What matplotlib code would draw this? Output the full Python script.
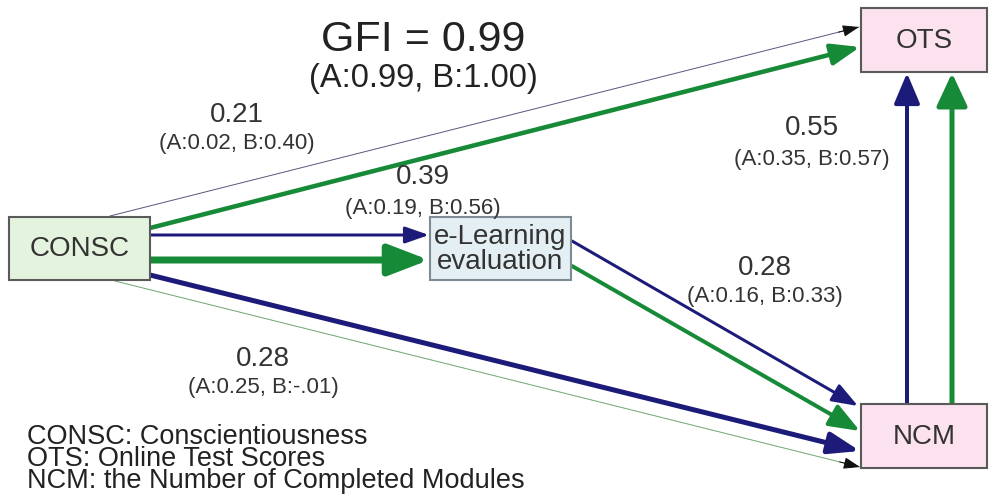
import matplotlib
matplotlib.use('Agg')

import matplotlib.pyplot as plt
from matplotlib.patches import FancyArrowPatch, Rectangle

plt.rcParams['font.family'] = ['Liberation Sans', 'DejaVu Sans']

# --- data ---
node_names = ['CONSC', 'OTS', 'NCM', 'e-Learning\nevaluation']
path_total = ['0.21', '0.39', '0.55', '0.28', '0.28']
path_a = ['0.02', '0.19', '0.35', '0.16', '0.25']
path_b = ['0.40', '0.56', '0.57', '0.33', '-.01']
gfi_total, gfi_a, gfi_b = '0.99', '0.99', '1.00'
legend_lines = ['CONSC: Conscientiousness',
                'OTS: Online Test Scores',
                'NCM: the Number of Completed Modules']

NAVY = '#1d1b7a'
GREEN = '#178a38'
TEXT = '#333333'
PX = 0.72  # pixels -> points at dpi 100

fig = plt.figure(figsize=(9.9, 5.02), dpi=100)
ax = fig.add_axes([0, 0, 1, 1])
ax.set_xlim(0, 990)
ax.set_ylim(502, 0)
ax.axis('off')

# boxes: x0, y0, x1, y1, fill, edge
boxes = [
    (9, 218, 150, 281, '#e4f3dd', '#5a5a5a'),
    (861, 9, 987, 73, '#fbe2ee', '#5a5a5a'),
    (861, 405, 987, 469, '#fbe2ee', '#5a5a5a'),
    (430, 218, 571, 281, '#e4eff3', '#7d8b94'),
]
for (x0, y0, x1, y1, fc, ec), name in zip(boxes, node_names):
    ax.add_patch(Rectangle((x0, y0), x1 - x0, y1 - y0, facecolor=fc,
                           edgecolor=ec, lw=1.5, zorder=3))
    ax.text((x0 + x1) / 2, (y0 + y1) / 2, name, ha='center', va='center',
            fontsize=20, color=TEXT, zorder=4, linespacing=0.95)


def arrow(p0, p1, color, lw, hl, hw, head_color=None, zorder=2):
    style = f'-|>,head_length={hl * PX:.1f},head_width={hw * PX / 2:.1f}'
    if head_color is None:
        ax.add_patch(FancyArrowPatch(p0, p1, arrowstyle=style, color=color,
                                     lw=lw * PX, shrinkA=0, shrinkB=0,
                                     mutation_scale=1, zorder=zorder))
        return
    # thin line in one colour, arrow head in another
    ax.add_patch(FancyArrowPatch(p0, p1, arrowstyle='-', color=color,
                                 lw=lw * PX, shrinkA=0, shrinkB=0,
                                 mutation_scale=1, zorder=zorder))
    dx, dy = p1[0] - p0[0], p1[1] - p0[1]
    d = (dx ** 2 + dy ** 2) ** 0.5
    q = (p1[0] - dx / d * hl * 1.5, p1[1] - dy / d * hl * 1.5)
    ax.add_patch(FancyArrowPatch(q, p1, arrowstyle=style, color=head_color,
                                 lw=lw * PX, shrinkA=0, shrinkB=0,
                                 mutation_scale=1, zorder=zorder))


# CONSC -> OTS
arrow((110, 217), (859, 28), '#5c5a80', 1.0, 14, 10, head_color='#111111')
arrow((150, 229), (860, 48), GREEN, 4.5, 24, 18)
# CONSC -> e-Learning
arrow((150, 236), (429, 236), NAVY, 3, 20, 14)
arrow((150, 261), (429, 261), GREEN, 7, 34, 26)
# CONSC -> NCM
arrow((150, 276), (860, 452), NAVY, 5, 26, 18)
arrow((115, 282), (860, 468), '#6fa872', 1.0, 14, 10, head_color='#111111')
# e-Learning -> NCM
arrow((572, 242), (858, 407), NAVY, 3, 22, 16)
arrow((572, 267), (860, 432), GREEN, 4, 26, 20)
# NCM -> OTS
arrow((907, 405), (907, 74), NAVY, 4, 26, 22)
arrow((952, 405), (952, 74), GREEN, 5, 28, 26)

# path coefficient labels (main, then A/B)
label_pos = [(237, 115, 144), (423, 177, 209), (812, 128, 160),
             (765, 268, 297), (263, 359, 388)]
for (x, y1, y2), t, a, b in zip(label_pos, path_total, path_a, path_b):
    ax.text(x, y1, t, ha='center', va='center', fontsize=20, color=TEXT, zorder=5)
    ax.text(x, y2, f'(A:{a}, B:{b})', ha='center', va='center',
            fontsize=16, color=TEXT, zorder=5)

# GFI
ax.text(423, 40, f'GFI = {gfi_total}', ha='center', va='center',
        fontsize=31, color='#222222')
ax.text(423, 78, f'(A:{gfi_a}, B:{gfi_b})', ha='center', va='center',
        fontsize=23.5, color='#222222')

# legend, tightly spaced lines as in the source
ax.text(27, 459, '\n'.join(legend_lines), ha='left', va='center',
        fontsize=19.5, color='#222222', linespacing=0.8)

fig.savefig('out.png', dpi=100, facecolor='white')
